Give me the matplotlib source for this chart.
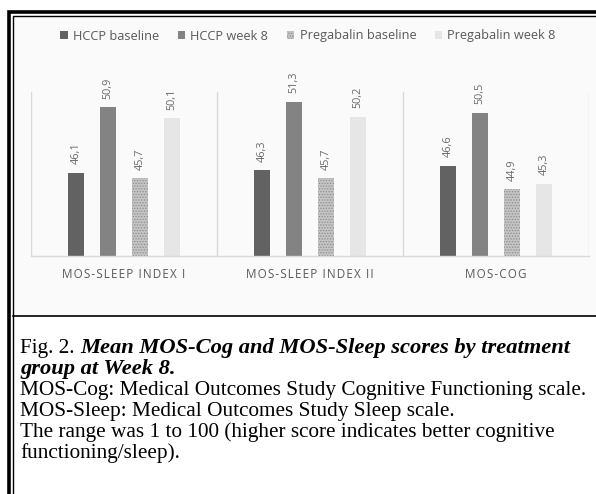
import matplotlib
matplotlib.use("Agg")
import matplotlib.pyplot as plt
import numpy as np
from matplotlib.patches import Rectangle

categories = ["MOS-SLEEP INDEX I", "MOS-SLEEP INDEX II", "MOS-COG"]
series_names = ["HCCP baseline", "HCCP week 8", "Pregabalin baseline", "Pregabalin week 8"]
hccp_baseline = [46.1, 46.3, 46.6]
hccp_week8 = [50.9, 51.3, 50.5]
preg_baseline = [45.7, 45.7, 44.9]
preg_week8 = [50.1, 50.2, 45.3]
series_values = [hccp_baseline, hccp_week8, preg_baseline, preg_week8]

caption_lines = [
    "MOS-Cog: Medical Outcomes Study Cognitive Functioning scale.",
    "MOS-Sleep: Medical Outcomes Study Sleep scale.",
    "The range was 1 to 100 (higher score indicates better cognitive",
    "functioning/sleep).",
]

plt.rcParams["hatch.linewidth"] = 0.6

W, H = 596, 494
fig = plt.figure(figsize=(W / 100, H / 100), dpi=100)
fig.patch.set_facecolor("white")

# overlay axes in pixel coordinates for frame decorations
ov = fig.add_axes([0, 0, 1, 1], zorder=-5)
ov.set_xlim(0, W)
ov.set_ylim(H, 0)
ov.axis("off")
ov.add_patch(Rectangle((13, 17), W - 13, 299, facecolor="#fafafa", edgecolor="none"))
ov.plot([9, 9, W + 5], [H + 5, 12, 12], color="black", lw=2.6, solid_joinstyle="miter")
ov.plot([12.8, 12.8, W + 5], [H + 5, 15.8, 15.8], color="black", lw=1.0, solid_joinstyle="miter")
ov.plot([12.8, W + 5], [316, 316], color="black", lw=1.2)

# chart axes
px_l, px_r, px_t, px_b = 31, 589, 92, 256
ax = fig.add_axes([px_l / W, 1 - px_b / H, (px_r - px_l) / W, (px_b - px_t) / H])
ax.set_facecolor("none")
ax.set_ylim(40, 52)
ax.set_xlim(-0.5, len(categories) - 0.5)
for s in ["top", "left", "right"]:
    ax.spines[s].set_visible(False)
ax.spines["bottom"].set_color("#d9d9d9")
ax.spines["bottom"].set_linewidth(1.0)
ax.set_yticks([])
ax.tick_params(axis="x", length=0, pad=8.5)

for b in np.arange(len(categories) + 1) - 0.5:
    ax.axvline(b, color="#d9d9d9", lw=1.0, zorder=0)

x = np.arange(len(categories))
bw = 0.091
step = 0.172
offsets = (np.arange(4) - 1.5) * step
facecolors = ["#626262", "#838383", "#c4c4c4", "#e6e6e6"]
hatches = [None, None, "......", None]
hatch_edge = ["none", "none", "#8e8e8e", "none"]

handles = []
for i, vals in enumerate(series_values):
    bars = ax.bar(x + offsets[i], np.array(vals) - 40, bottom=40, width=bw,
                  color=facecolors[i], hatch=hatches[i],
                  edgecolor=hatch_edge[i], linewidth=0, label=series_names[i], zorder=2)
    handles.append(bars)
    for xi, v in zip(x + offsets[i], vals):
        ax.annotate(f"{v:.1f}".replace(".", ","), (xi, v), xytext=(0, 6),
                    textcoords="offset points", rotation=90, ha="center", va="bottom",
                    fontsize=7.8, color="#6a6a6a", family="Open Sans")

spaced = ["\u200a".join(c) for c in categories]
ax.set_xticks(x)
ax.set_xticklabels(spaced, fontsize=8.4, color="#595959",
                   family=["Open Sans", "DejaVu Sans"])

leg = fig.legend(handles=handles, labels=series_names, loc="center",
                 bbox_to_anchor=(308 / W, 1 - 36 / H), ncol=4, frameon=False,
                 prop={"family": "Open Sans", "size": 9.2},
                 handlelength=0.6, handleheight=0.6, handletextpad=0.4,
                 columnspacing=1.45, labelcolor="#595959")

# caption
cap_x = 20 / W
fs = 15.3
fs_b = 16.2
t0 = fig.text(cap_x, 1 - 348 / H, "Fig. 2. ", family="Liberation Serif", fontsize=fs,
              va="center", ha="left", color="black")
fig.canvas.draw()
bb = t0.get_window_extent()
fig.text(bb.x1 / W, 1 - 348 / H, "Mean MOS-Cog and MOS-Sleep scores by treatment",
         family="Liberation Serif", fontsize=fs_b, fontweight="bold", fontstyle="italic",
         va="center", ha="left")
fig.text(cap_x, 1 - 369 / H, "group at Week 8.", family="Liberation Serif", fontsize=fs_b,
         fontweight="bold", fontstyle="italic", va="center", ha="left")
for k, line in enumerate(caption_lines):
    fig.text(cap_x, 1 - (390 + 21 * k) / H, line, family="Liberation Serif", fontsize=fs,
             va="center", ha="left")

fig.savefig("out.png", dpi=100)
